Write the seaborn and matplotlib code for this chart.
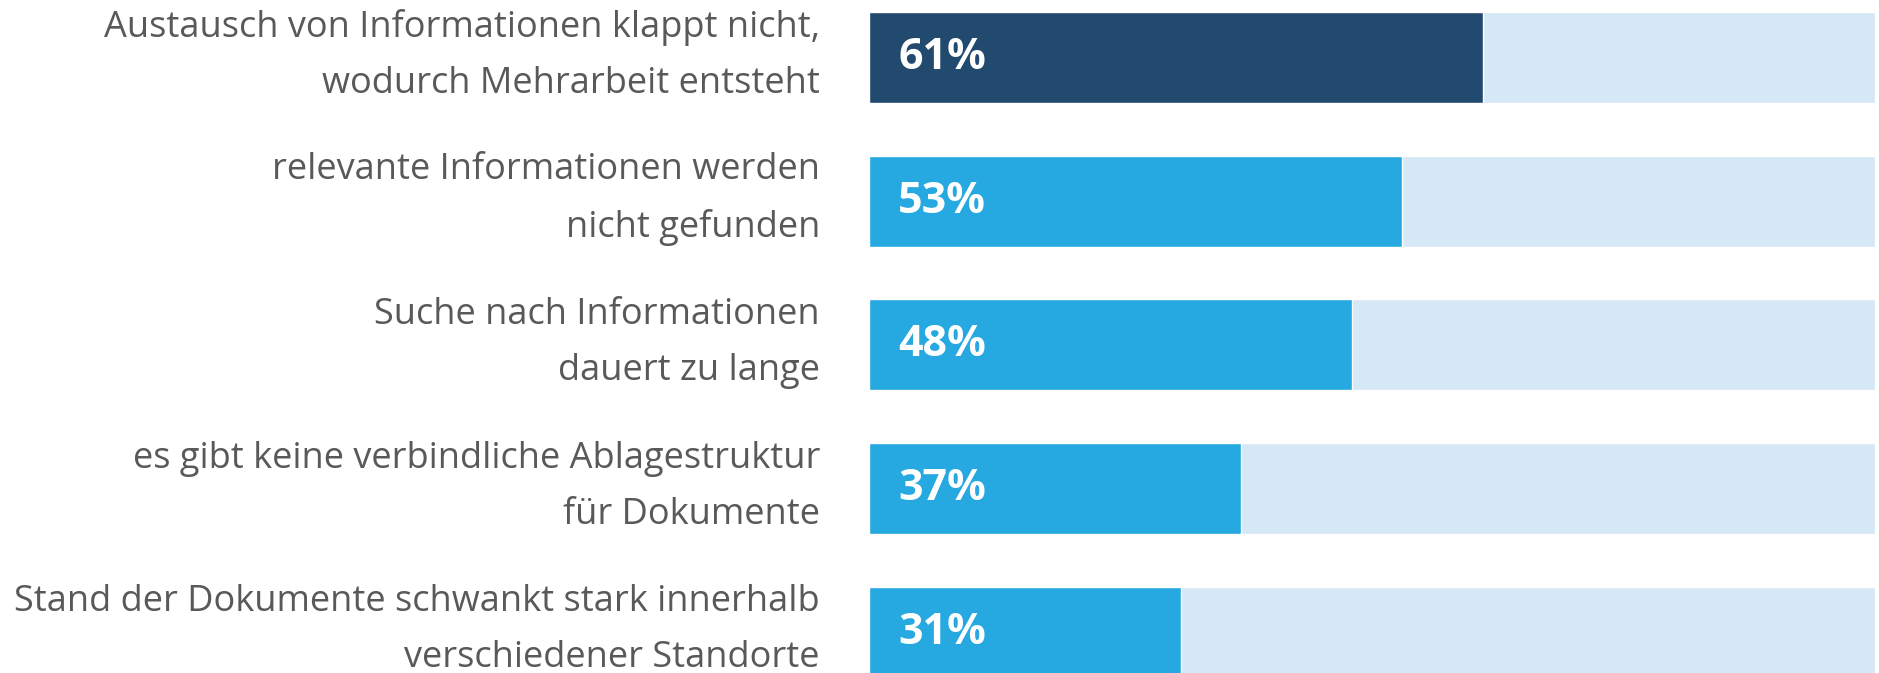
"""Horizontal bar chart: problems with document and information handling."""

import matplotlib
matplotlib.use('Agg')
import matplotlib.pyplot as plt
import pandas as pd
import seaborn as sns

## SETTINGS
DARK = '#214a6e'
BLUE = '#25a9e0'
LIGHT = '#d5e8f6'
TEXT = '#595959'

## DATA
labels = [
    'Austausch von Informationen klappt nicht,\nwodurch Mehrarbeit entsteht',
    'relevante Informationen werden\nnicht gefunden',
    'Suche nach Informationen\ndauert zu lange',
    'es gibt keine verbindliche Ablagestruktur\nfür Dokumente',
    'Stand der Dokumente schwankt stark innerhalb\nverschiedener Standorte',
]
values = [61, 53, 48, 37, 31]
totals = [100, 100, 100, 100, 100]

df = pd.DataFrame({'label': labels, 'value': values, 'total': totals})

sns.set_theme(style='white')
plt.rcParams['font.family'] = ['Open Sans', 'DejaVu Sans']

fig = plt.figure(figsize=(18.79, 6.73), dpi=100)
ax = fig.add_axes([869 / 1879, 0, 1006 / 1879, 1])

sns.barplot(data=df, x='total', y='label', orient='h', color=LIGHT,
            width=0.633, saturation=1, ax=ax)
palette = [DARK] + [BLUE] * (len(values) - 1)
sns.barplot(data=df, x='value', y='label', hue='label', orient='h',
            palette=palette, legend=False, width=0.633, saturation=1, ax=ax)

for ind, val in enumerate(values):
    ax.text(2.9, ind, f'{val}%', color='white', fontsize=31,
            fontweight='bold', va='center', ha='left')

# category labels drawn as text so they can sit slightly above bar centre
ytrans = ax.get_yaxis_transform()
for ind, lab in enumerate(labels):
    ax.text(-49 / 1006, ind - 0.015, lab, transform=ytrans, ha='right',
            va='center', multialignment='right', linespacing=1.74,
            fontsize=26, color=TEXT)

ax.set(xlim=[0, 100], ylim=[4.282, -0.4], xlabel=None, ylabel=None,
       xticks=[], yticks=[])
sns.despine(ax=ax, left=True, bottom=True)

plt.savefig('out.png', dpi=100)
